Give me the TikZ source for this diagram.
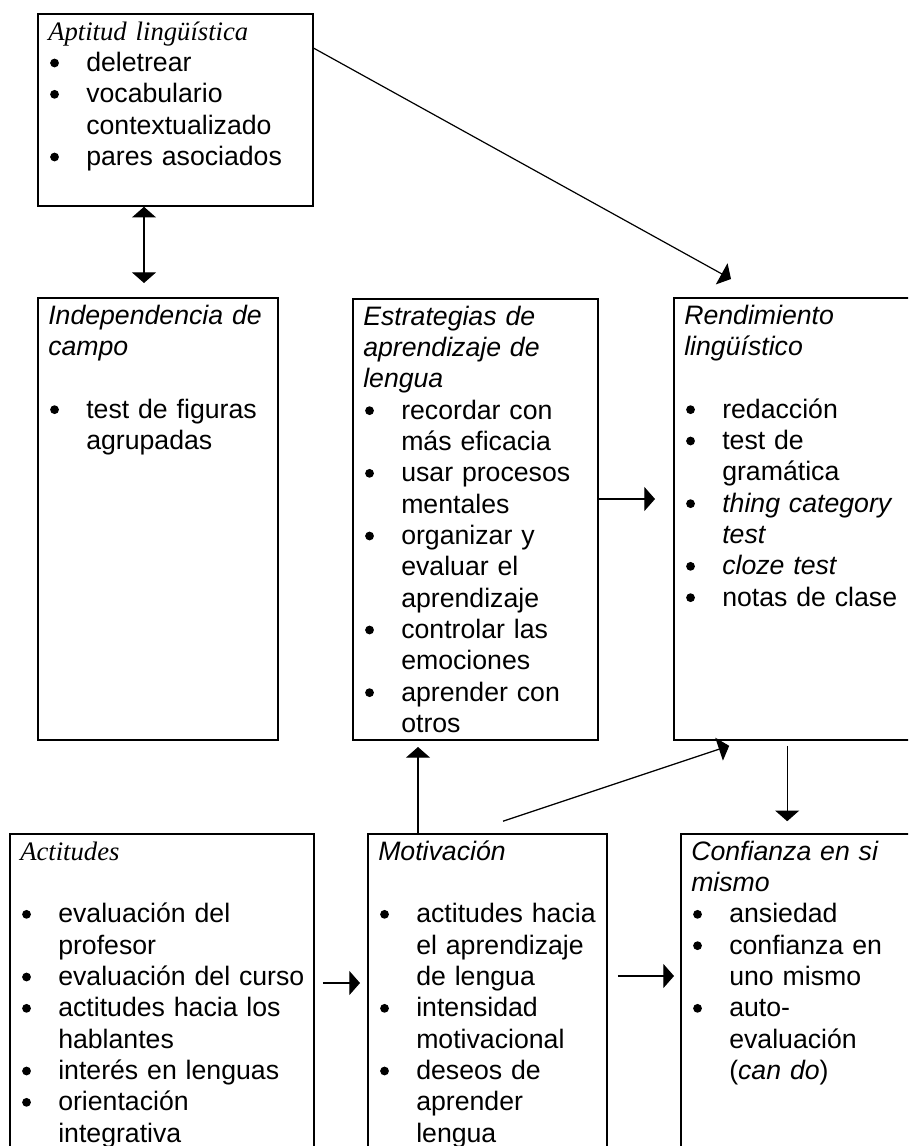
\documentclass[tikz,border=0pt]{standalone}
\usepackage{fontspec}
\usepackage{pict2e}
\setmainfont{Liberation Sans}
\newfontfamily\tmsfont{Liberation Serif}
\usetikzlibrary{arrows.meta,fit,calc}
\setlength{\parskip}{0pt}
\setlength{\parindent}{0pt}
\setlength{\unitlength}{1pt}
\newcommand\bdot{\begin{picture}(6.6,0)\put(3.3,6.4){\circle*{6.6}}\end{picture}}
\newcommand\blt{\par\hangindent=28.5pt\hangafter=1\makebox[28.5pt][l]{\hspace{1.4pt}\bdot}}
\newcommand\blank{\par\strut}
\begin{document}
\begin{tikzpicture}[x=0.75pt,y=-0.75pt,
  box/.style={draw,line width=1.2pt,inner sep=0pt},
  txt/.style={anchor=north west,inner sep=0pt,font=\fontsize{20}{23.5}\selectfont},
  arr/.style={line width=0.9pt,-{Triangle[length=8pt,width=18pt]}},
  darr/.style={line width=0.9pt,{Triangle[length=8pt,width=18pt]}-{Triangle[length=8pt,width=18pt]}}]
\useasboundingbox (0,0) rectangle (908,1146);
\clip (0,0) rectangle (908,1146);
% boxes
\node[box,fit={(38,14)(313,206)}] (apt) {};
\node[box,fit={(38,298)(278,740)}] (ind) {};
\node[box,fit={(353,299)(598,740)}] (est) {};
\node[box,fit={(674,298)(960,740)}] (ren) {};
\node[box,fit={(10,834)(314,1210)}] (act) {};
\node[box,fit={(368,834)(607,1210)}] (mot) {};
\node[box,fit={(681,834)(960,1210)}] (con) {};
% texts
\node[txt,text width=195pt] (aptT) at (48,18) {\strut{\tmsfont\itshape Aptitud lingüística}\blt deletrear\blt vocabulario\newline contextualizado\blt pares asociados\par};
\node[txt,text width=169pt] (indT) at (48,302) {\strut\textit{Independencia de\newline campo}\blank\blt test de figuras\newline agrupadas\par};
\node[txt,text width=173pt] (estT) at (363,303) {\strut\textit{Estrategias de\newline aprendizaje de\newline lengua}\blt recordar con\newline más eficacia\blt usar procesos\newline mentales\blt organizar y\newline evaluar el\newline aprendizaje\blt controlar las\newline emociones\blt aprender con\newline otros\par};
\node[txt,text width=168pt] (renT) at (684,302) {\strut\textit{Rendimiento\newline lingüístico}\blank\blt redacción\blt test de\newline gramática\blt\textit{thing category\newline test}\blt\textit{cloze test}\blt notas de clase\par};
\node[txt,text width=217pt] (actT) at (20,838) {\strut{\tmsfont\itshape Actitudes}\blank\blt evaluación del\newline profesor\blt evaluación del curso\blt actitudes hacia los\newline hablantes\blt interés en lenguas\blt orientación\newline integrativa\par};
\node[txt,text width=168pt] (motT) at (378,838) {\strut\textit{Motivación}\blank\blt actitudes hacia\newline el aprendizaje\newline de lengua\blt intensidad\newline motivacional\blt deseos de\newline aprender\newline lengua\par};
\node[txt,text width=162pt] (conT) at (691,838) {\strut\textit{Confianza en si\newline mismo}\blt ansiedad\blt confianza en\newline uno mismo\blt auto-\newline evaluación\newline (\textit{can do})\par};
% connectors
\coordinate (d1) at (144,283);
\draw[darr] (apt.south -| d1) -- (d1);
\coordinate (e1) at (731,279);
\draw[arr] ([shift={(0,35)}]apt.north east) -- (e1);
\coordinate (e2) at (655,499);
\draw[arr] (est.east |- e2) -- (e2);
\coordinate (e3) at (418,747);
\draw[arr] (mot.north -| e3) -- (e3);
\draw[arr] ([shift={(15.5,-12)}]mot.north) -- ([shift={(56,5)}]ren.south west);
\draw[arr] ([shift={(114,5)}]ren.south west) -- ([shift={(107,-12)}]con.north west);
\coordinate (e4) at (360,983);
\draw[arr] ($(act.east |- e4)+(8,0)$) -- (e4);
\coordinate (e5) at (674,976);
\draw[arr] ($(mot.east |- e5)+(10,0)$) -- (e5);
\end{tikzpicture}
\end{document}
